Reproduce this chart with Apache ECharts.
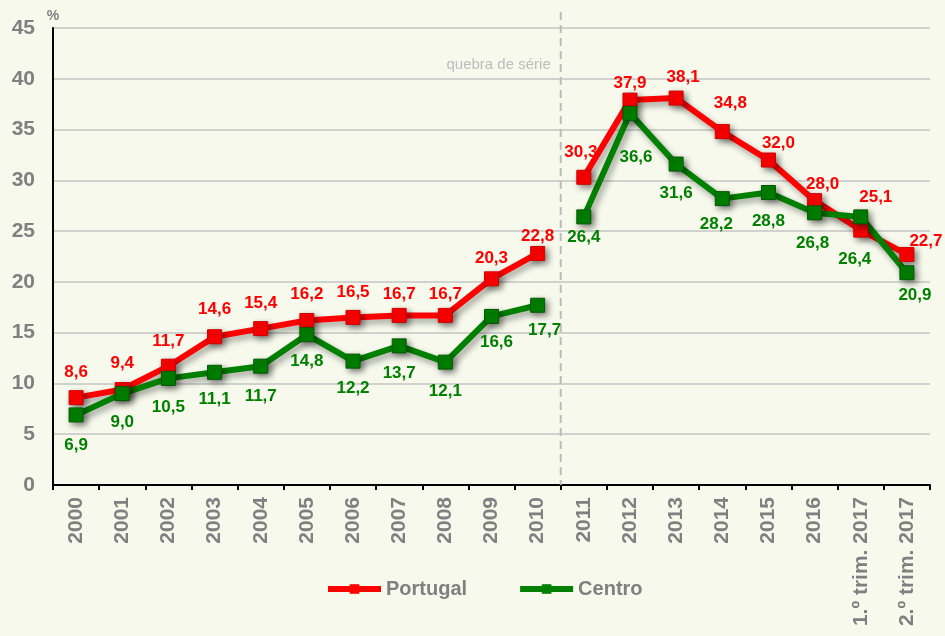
<!DOCTYPE html>
<html>
<head>
<meta charset="utf-8">
<script src="https://cdn.jsdelivr.net/npm/echarts@6/dist/echarts.min.js"></script>
<style>
  html, body { margin: 0; padding: 0; background: #F6F9EC; }
  #chart { width: 945px; height: 636px; }
</style>
</head>
<body>
<div id="chart"></div>
<script>
// Categories (years, then the two 2017 quarters)
const categories = ['2000', '2001', '2002', '2003', '2004', '2005', '2006', '2007', '2008',
  '2009', '2010', '2011', '2012', '2013', '2014', '2015', '2016', '1.º trim. 2017', '2.º trim. 2017'];

// Rates (%)
const portugal = [8.6, 9.4, 11.7, 14.6, 15.4, 16.2, 16.5, 16.7, 16.7, 20.3, 22.8,
  30.3, 37.9, 38.1, 34.8, 32.0, 28.0, 25.1, 22.7];
const centro = [6.9, 9.0, 10.5, 11.1, 11.7, 14.8, 12.2, 13.7, 12.1, 16.6, 17.7,
  26.4, 36.6, 31.6, 28.2, 28.8, 26.8, 26.4, 20.9];

// Index of the first category after the series break
const breakIndex = 11;

// Value-axis ticks
const yTicks = [0, 5, 10, 15, 20, 25, 30, 35, 40, 45];

// Per-point label placement, in pixels from the point centre
const portugalLabelShift = [[0, -25], [0, -26], [0, -25], [0, -27], [0, -25], [0, -26], [0, -25],
  [0, -21], [0, -21], [0, -21], [0, -17], [-3, -25], [0, -17], [7, -21], [8, -28], [10, -17],
  [8, -16], [15, -33], [19, -13]];
const centroLabelShift = [[0, 30], [0, 29], [0, 29], [0, 27], [0, 30], [0, 27], [0, 27],
  [0, 27], [0, 29], [5, 26], [7, 25], [0, 20], [6, 44], [0, 29], [-6, 26], [0, 29],
  [-2, 30], [-6, 42], [8, 23]];

const FONT = 'Arial, "Liberation Sans", sans-serif';
const GREY = '#808080';

const fmt = v => v.toFixed(1).replace('.', ',');

// One segment of a series: values outside [from, to) become gaps
function segment(values, shifts, from, to) {
  return values.map((v, i) => {
    if (i < from || i >= to) return '-';
    return {
      value: v,
      label: { offset: shifts[i] }
    };
  });
}

function makeSeries(name, values, shifts, color, border) {
  const base = {
    name: name,
    type: 'line',
    symbol: 'rect',
    symbolSize: 14,
    connectNulls: false,
    color: color,
    lineStyle: {
      width: 6, color: color,
      shadowColor: 'rgba(0,0,0,0.35)', shadowBlur: 6, shadowOffsetX: 3, shadowOffsetY: 4
    },
    itemStyle: {
      color: color, borderColor: border, borderWidth: 1,
      shadowColor: 'rgba(0,0,0,0.45)', shadowBlur: 6, shadowOffsetX: 3, shadowOffsetY: 3
    },
    label: {
      show: true,
      position: 'inside',
      color: color,
      fontFamily: FONT,
      fontWeight: 'bold',
      fontSize: 17,
      formatter: p => fmt(p.value)
    },
    emphasis: { disabled: true },
    animation: false
  };
  return [
    Object.assign({}, base, { data: segment(values, shifts, 0, breakIndex) }),
    Object.assign({}, base, { data: segment(values, shifts, breakIndex, values.length) })
  ];
}

const chart = echarts.init(document.getElementById('chart'), null, { renderer: 'canvas' });

const option = {
  backgroundColor: '#F6F9EC',
  animation: false,
  grid: { left: 53, right: 15, top: 28, bottom: 151, containLabel: false },
  legend: {
    data: ['Portugal', 'Centro'],
    left: 320,
    top: 574,
    itemWidth: 53,
    itemHeight: 12,
    itemGap: 50,
    lineStyle: { width: 6, shadowBlur: 0, shadowOffsetX: 0, shadowOffsetY: 0 },
    itemStyle: { shadowBlur: 0, shadowOffsetX: 0, shadowOffsetY: 0, borderWidth: 0 },
    textStyle: { color: GREY, fontFamily: FONT, fontWeight: 'bold', fontSize: 20 }
  },
  xAxis: {
    type: 'category',
    data: categories,
    boundaryGap: true,
    axisLine: { lineStyle: { color: '#000', width: 2 } },
    axisTick: { show: true, length: 5, lineStyle: { color: '#000', width: 2 } },
    axisLabel: {
      rotate: 90,
      interval: 0,
      margin: 12,
      color: GREY,
      fontFamily: FONT,
      fontWeight: 'bold',
      fontSize: 21
    },
    splitLine: { show: false }
  },
  yAxis: {
    type: 'value',
    min: yTicks[0],
    max: yTicks[yTicks.length - 1],
    interval: yTicks[1] - yTicks[0],
    name: '%',
    nameLocation: 'end',
    nameGap: 5,
    nameTextStyle: { color: GREY, fontFamily: FONT, fontWeight: 'bold', fontSize: 14, align: 'center' },
    axisLine: { show: true, lineStyle: { color: '#000', width: 2 } },
    axisTick: { show: false },
    axisLabel: {
      margin: 18,
      color: GREY,
      fontFamily: FONT,
      fontWeight: 'bold',
      fontSize: 21
    },
    splitLine: { lineStyle: { color: '#C4C4C4', width: 1.5 } }
  },
  series: [
    ...makeSeries('Portugal', portugal, portugalLabelShift, '#FF0000', '#D00000'),
    ...makeSeries('Centro', centro, centroLabelShift, '#008000', '#005A00')
  ]
};

chart.setOption(option);

// Series-break marker: dashed line halfway between the two categories around the break
const xA = chart.convertToPixel({ xAxisIndex: 0 }, categories[breakIndex - 1]);
const xB = chart.convertToPixel({ xAxisIndex: 0 }, categories[breakIndex]);
const xBreak = (xA + xB) / 2;
const yBottom = chart.convertToPixel({ yAxisIndex: 0 }, 0);
const yTop = chart.convertToPixel({ yAxisIndex: 0 }, 45);

chart.setOption({
  graphic: [
    {
      type: 'line',
      silent: true,
      z: 1,
      shape: { x1: xBreak, y1: yTop - 16, x2: xBreak, y2: yBottom },
      style: { stroke: '#BBBBBB', lineWidth: 2, lineDash: [8, 5] }
    },
    {
      type: 'text',
      silent: true,
      x: xBreak - 10,
      y: yTop + 37,
      style: {
        text: 'quebra de série',
        fill: '#BDBDBD',
        font: '15px ' + FONT,
        textAlign: 'right',
        textVerticalAlign: 'middle'
      }
    }
  ]
});
</script>
</body>
</html>
